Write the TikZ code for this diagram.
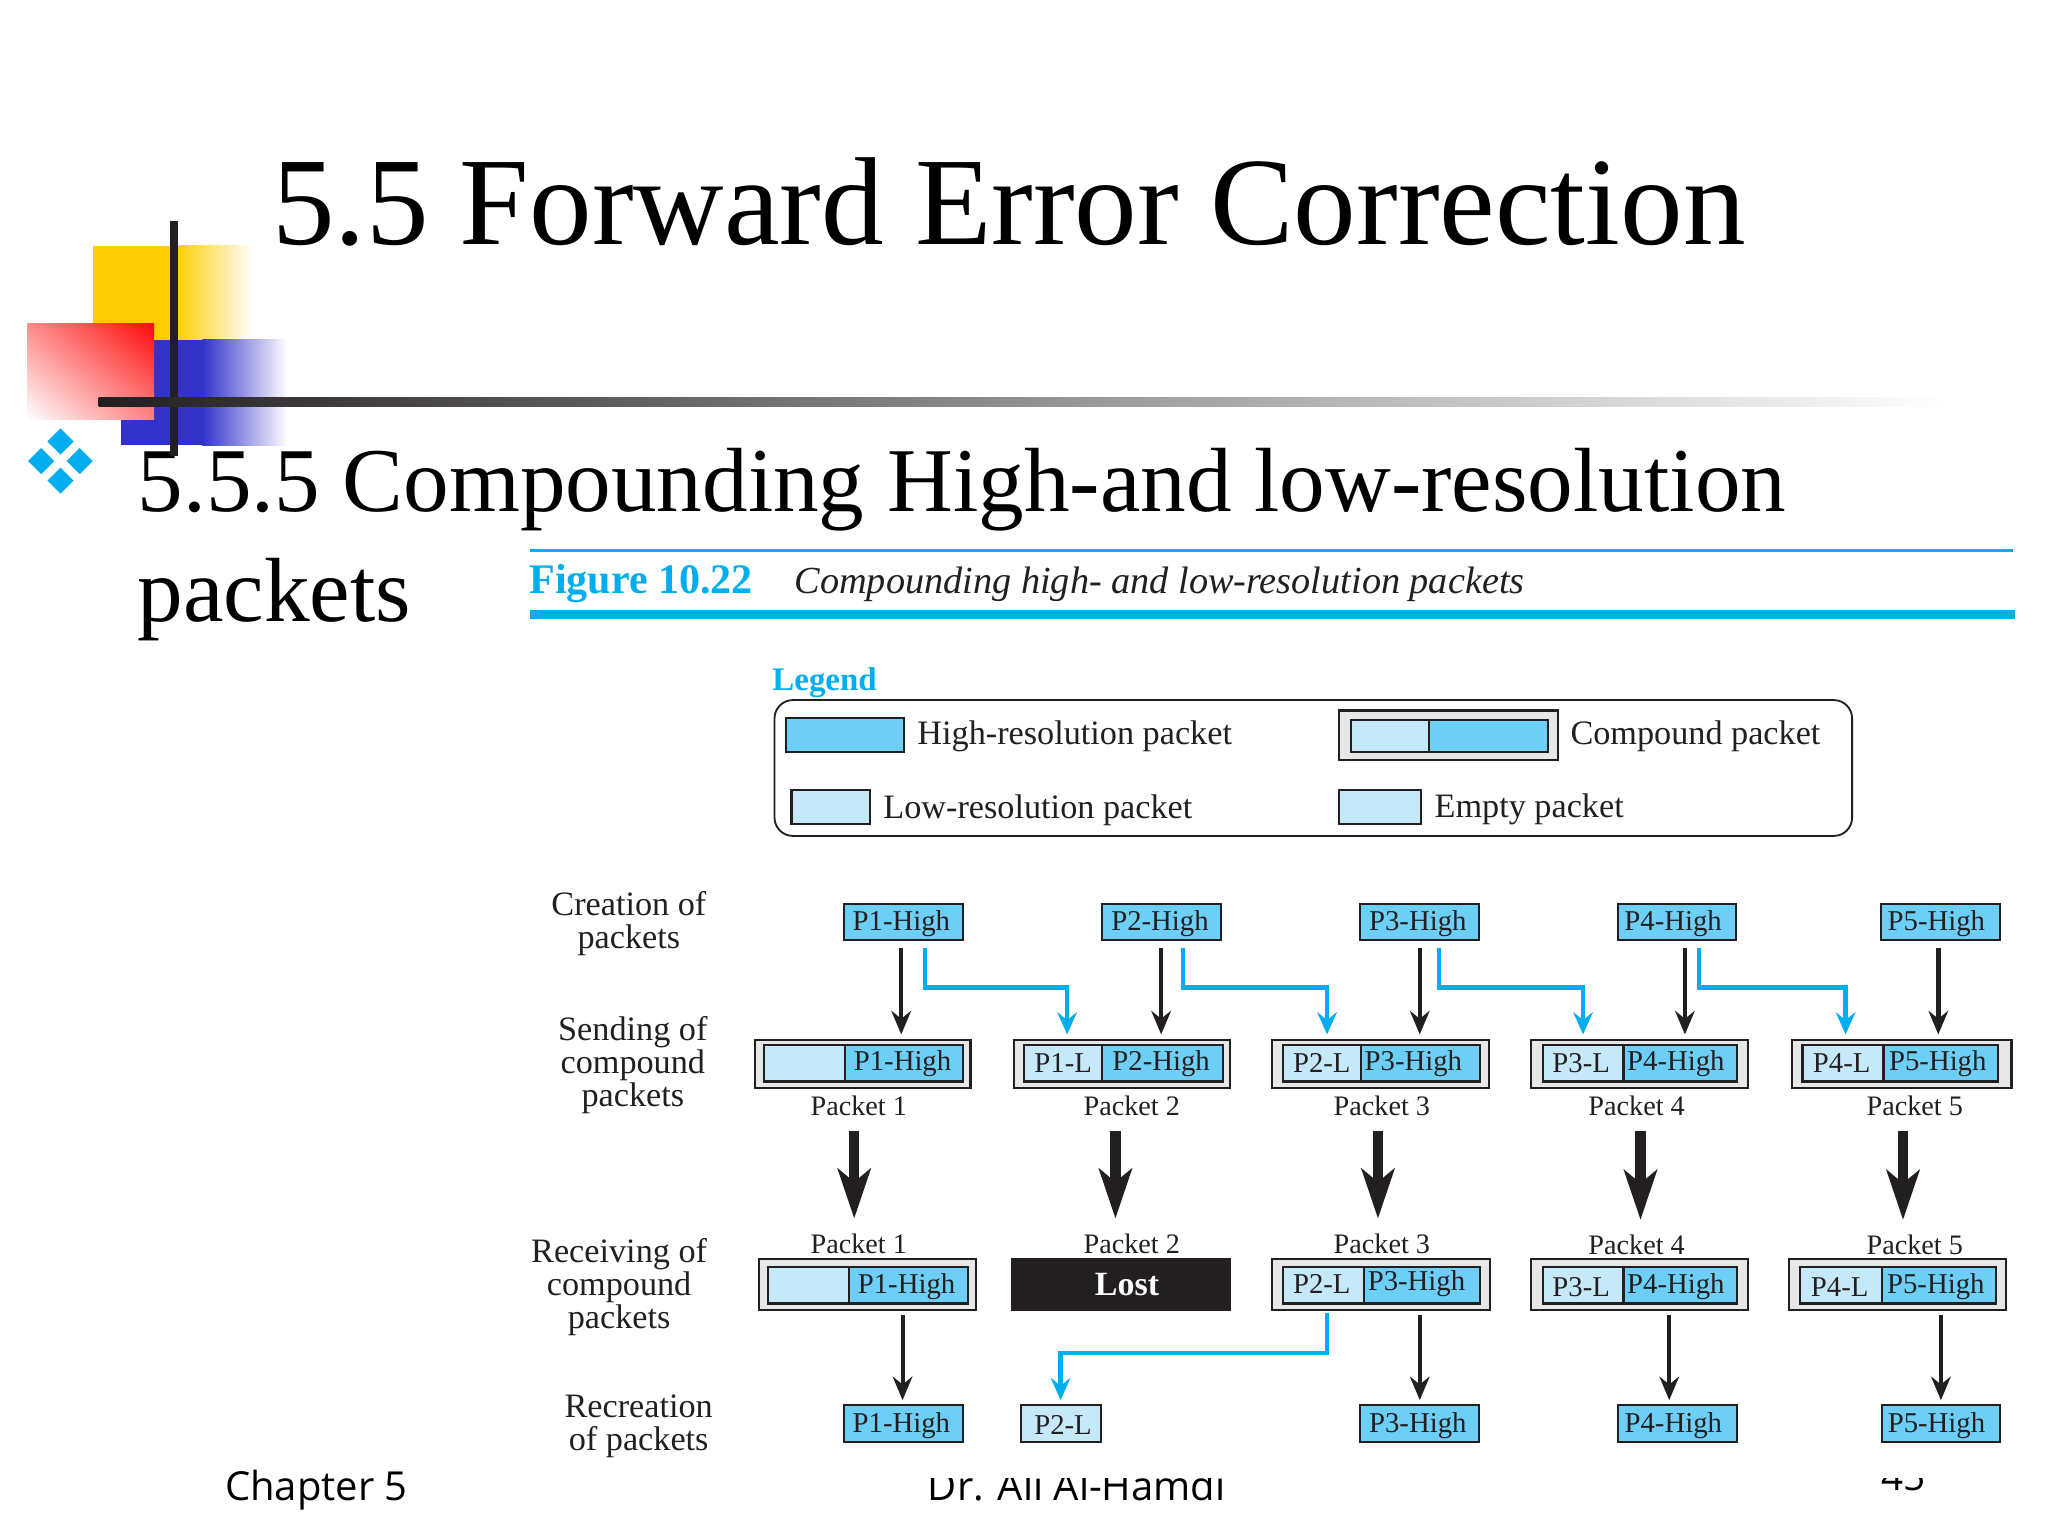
\documentclass[tikz,border=0pt]{standalone}
\usepackage{fontspec}
\setmainfont{Liberation Serif}
\newfontfamily\footfont{Open Sans}
\usetikzlibrary{arrows.meta,calc,shadings}
\definecolor{hi}{HTML}{6DCFF6}
\definecolor{lo}{HTML}{C6E9FA}
\definecolor{cy}{HTML}{00AEEF}
\definecolor{ink}{HTML}{231F20}
\definecolor{gbox}{HTML}{E6E7E8}
\definecolor{deco1}{RGB}{255,204,0}
\definecolor{deco2}{RGB}{51,51,204}
\definecolor{deco3}{RGB}{255,10,10}
\definecolor{deco3a}{RGB}{255,140,140}
\definecolor{deco3b}{RGB}{255,130,130}
\newcommand{\rb}[7]{\node[#1,minimum width={(#5-#3)*0.5pt},minimum height={(#6-#4)*0.5pt}] (#2) at ({(#3+#5)/2},{(#4+#6)/2}) {#7};}
\newcommand{\sh}[2]{\hspace*{#1pt}#2\hspace*{-#1pt}}
\newcommand{\lw}[1]{\raisebox{-0.6pt}[\height][\depth]{#1}}
\newcommand{\up}[1]{\raisebox{0.5pt}[\height][\depth]{#1}}
\tikzset{
  x=0.5pt,y=-0.5pt,
  cell/.style={draw=ink,line width=0.8pt,inner sep=0pt,outer sep=0pt,text=ink,font=\fontsize{11}{13}\selectfont},
  hibox/.style={cell,fill=hi},
  lobox/.style={cell,fill=lo},
  outerbox/.style={cell,fill=gbox},
  lostbox/.style={cell,fill=ink,text=white,font=\fontsize{13}{15}\bfseries\selectfont},
  pklabel/.style={inner sep=0pt,text=ink,font=\fontsize{10.8}{13}\selectfont},
  sidelabel/.style={inner sep=0pt,text=ink,align=center,font=\fontsize{13.1}{12.6}\selectfont},
  legendlabel/.style={inner sep=0pt,text=ink,anchor=west,font=\fontsize{13.1}{15}\selectfont},
  titletext/.style={inner sep=0pt,anchor=base west,text=black},
  footlabel/.style={inner sep=0pt,anchor=base west,text=black,font=\footfont\fontsize{15.3}{18}\selectfont},
  thinarrow/.style={draw=ink,line width=1.7pt,-{Stealth[length=9pt,width=7.5pt,inset=3pt]}},
  bluearrow/.style={draw=cy,line width=1.6pt,-{Stealth[length=8.5pt,width=7.5pt,inset=3pt]}},
  fatarrow/.style={draw=ink,line width=4pt,-{Stealth[length=19pt,width=12.5pt,inset=5pt]}},
  dia/.style={fill=cy,draw=none}
}
\begin{document}
\begin{tikzpicture}
\useasboundingbox (0,0) rectangle (1568,1176);
\fill[white] (0,0) rectangle (1568,1176);
% decoration
\fill[deco1] (71,188) rectangle (133,262);
\shade[left color=deco1,right color=white] (133,188) rectangle (194,262);
\fill[deco2] (93,260) rectangle (155,341);
\shade[left color=deco2,right color=white] (155,260) rectangle (220,341);
\shade[upper right=deco3,lower left=white,upper left=deco3a,lower right=deco3b] (21,248) rectangle (118,321);
\foreach \cx/\cy in {46.3/338,31.5/353,61/353,46.3/368}{
  \fill[dia] (\cx-10,\cy) -- (\cx,\cy-10) -- (\cx+10,\cy) -- (\cx,\cy+10) -- cycle;}
\node[titletext,font=\fontsize{47.9}{58}\selectfont] (title) at (208,187) {5.5 Forward Error Correction};
\node[titletext,font=\fontsize{34.9}{42}\selectfont] (sub1) at (105,392) {5.5.5 Compounding High-and low-resolution};
\node[titletext,font=\fontsize{34.9}{42}\selectfont] (sub2) at (105,476) {packets};
\fill[ink] (130.5,169) rectangle (136,349);
\shade[left color=ink,middle color=black!55,right color=white] (75.5,304.5) rectangle (1490,311);
% footer
\node[footlabel] (foot1) at (172,1149) {Chapter 5};
\node[footlabel] (foot2) at (710,1149) {Dr. Ali Al-Hamdi};
\node[footlabel,font=\footfont\fontsize{14.8}{17}\selectfont] (foot3) at (1440,1141) {45};
% figure sheet
\fill[white] (400,415) rectangle (1568,1131.5);
\fill[cy] (406,420) rectangle (1541,422.5);
\fill[cy] (406,467) rectangle (1543,474);
\node[inner sep=0pt,anchor=west,text=cy,font=\fontsize{16.1}{19}\bfseries\selectfont] (figno) at (405,447) {Figure 10.22};
\node[inner sep=0pt,anchor=west,text=ink,font=\fontsize{14.65}{17}\itshape\selectfont] (figcap) at (608,447) {Compounding high- and low-resolution packets};
% legend
\node[inner sep=0pt,anchor=west,text=cy,font=\fontsize{12.6}{15}\bfseries\selectfont] (leg) at (591,523) {Legend};
\draw[ink,line width=0.7pt,rounded corners=7pt] (593,536) rectangle (1418,640);
\rb{hibox}{lh}{602}{550}{692}{576}{}
\node[legendlabel] (lht) at (702,564) {High-resolution packet};
\rb{outerbox}{lco}{1025}{544}{1193}{582}{}
\rb{lobox}{lcl}{1034}{551}{1094}{576}{}
\rb{hibox}{lch}{1094}{551}{1185}{576}{}
\node[legendlabel] (lct) at (1202,564) {Compound packet};
\rb{lobox}{ll}{606}{605}{666}{631}{}
\node[legendlabel] (llt) at (676,620) {Low-resolution packet};
\rb{lobox}{le}{1025}{605}{1088}{631}{}
\node[legendlabel] (let) at (1098,620) {Empty packet};
% side labels
\node[sidelabel] (sa) at (481.5,707) {Creation of\\packets};
\node[sidelabel] (sb) at (484.5,815.5) {Sending of\\compound\\packets};
\node[sidelabel] (sc) at (474,985.5) {Receiving of\\compound\\packets};
\node[sidelabel] (sd) at (489,1092) {Recreation\\of packets};
% row 1
\rb{hibox}{a1}{646}{692}{737}{720}{\lw{\sh{-0.7}{P1-High}}}
\rb{hibox}{a2}{844}{692}{935}{720}{\lw{\sh{-0.7}{P2-High}}}
\rb{hibox}{a3}{1041}{692}{1132}{720}{\lw{\sh{-0.5}{P3-High}}}
\rb{hibox}{a4}{1239}{692}{1329}{720}{\lw{\sh{-1.5}{P4-High}}}
\rb{hibox}{a5}{1440}{692}{1531}{720}{\lw{\sh{-1.5}{P5-High}}}
% row 2
\rb{outerbox}{b1}{578}{796}{743}{833}{}
\rb{lobox}{b1l}{585}{800}{647}{828}{}
\rb{hibox}{b1h}{647}{800}{737}{828}{\sh{-0.5}{P1-High}}
\rb{outerbox}{b2}{776}{796}{942}{833}{}
\rb{lobox}{b2l}{784}{800}{844}{828}{P1-L}
\rb{hibox}{b2h}{844}{800}{936}{828}{\sh{-0.5}{P2-High}}
\rb{outerbox}{b3}{974}{796}{1140}{833}{}
\rb{lobox}{b3l}{982}{800}{1042}{828}{P2-L}
\rb{hibox}{b3h}{1042}{800}{1133}{828}{\sh{-2.7}{P3-High}}
\rb{outerbox}{b4}{1172}{796}{1338}{833}{}
\rb{lobox}{b4l}{1181}{800}{1243}{828}{\sh{-0.7}{P3-L}}
\rb{hibox}{b4h}{1243}{800}{1330}{828}{\sh{-1.7}{P4-High}}
\rb{outerbox}{b5}{1372}{796}{1540}{833}{}
\rb{lobox}{b5l}{1380}{800}{1442}{828}{\sh{-0.5}{P4-L}}
\rb{hibox}{b5h}{1442}{800}{1530}{828}{\sh{-1.2}{P5-High}}
\node[pklabel] (c1) at (657.5,847) {Packet 1};
\node[pklabel] (c2) at (866.5,847) {Packet 2};
\node[pklabel] (c3) at (1058,847) {Packet 3};
\node[pklabel] (c4) at (1253,847) {Packet 4};
\node[pklabel] (c5) at (1466,847) {Packet 5};
% row 3
\node[pklabel] (d1) at (657.5,952) {Packet 1};
\node[pklabel] (d2) at (866.5,952) {Packet 2};
\node[pklabel] (d3) at (1058,952) {Packet 3};
\node[pklabel] (d4) at (1253,953) {Packet 4};
\node[pklabel] (d5) at (1466,953) {Packet 5};
\rb{outerbox}{e1}{581}{964}{747}{1003}{}
\rb{lobox}{e1l}{588}{970}{650}{998}{}
\rb{hibox}{e1h}{650}{970}{741}{998}{\lw{\sh{-0.7}{P1-High}}}
\rb{lostbox}{e2}{775}{964}{942}{1003}{\sh{2.2}{Lost}}
\rb{outerbox}{e3}{974}{964}{1141}{1003}{}
\rb{lobox}{e3l}{982}{970}{1044}{998}{\up{\sh{-0.5}{P2-L}}}
\rb{hibox}{e3h}{1044}{970}{1133}{998}{\up{\sh{-2}{P3-High}}}
\rb{outerbox}{e4}{1172}{964}{1338}{1003}{}
\rb{lobox}{e4l}{1181}{970}{1243}{998}{\lw{\sh{-0.7}{P3-L}}}
\rb{hibox}{e4h}{1243}{970}{1330}{998}{\lw{\sh{-1.7}{P4-High}}}
\rb{outerbox}{e5}{1370}{964}{1536}{1003}{}
\rb{lobox}{e5l}{1378}{970}{1441}{998}{\lw{\sh{-0.5}{P4-L}}}
\rb{hibox}{e5h}{1441}{970}{1528}{998}{\lw{\sh{-1.2}{P5-High}}}
% row 4
\rb{hibox}{f1}{646}{1076}{737}{1104}{\lw{\sh{-0.7}{P1-High}}}
\rb{lobox}{f2}{782}{1076}{843}{1104}{\lw{\sh{0.7}{P2-L}}}
\rb{hibox}{f3}{1041}{1076}{1132}{1104}{\lw{\sh{-0.5}{P3-High}}}
\rb{hibox}{f4}{1239}{1076}{1330}{1104}{\lw{\sh{-1.7}{P4-High}}}
\rb{hibox}{f5}{1441}{1076}{1531}{1104}{\lw{\sh{-1.7}{P5-High}}}
% connectors row 1 -> 2
\foreach \n/\m/\x in {a1/b1/690,a2/b2/889,a3/b3/1087,a4/b4/1290,a5/b5/1484}{
  \draw[thinarrow,shorten <=3pt,shorten >=2pt] (\x,0 |- \n.south) -- (\x,0 |- \m.north);}
\foreach \n/\m/\x/\xx in {a1/b2/708/817,a2/b3/906/1016,a3/b4/1102/1212,a4/b5/1301/1413}{
  \draw[bluearrow,shorten <=3pt,shorten >=2pt] (\x,0 |- \n.south) -- (\x,756) -- (\xx,756) -- (\xx,0 |- \m.north);}
% fat arrows
\foreach \n/\m/\x in {c1/d1/654,c2/d2/854,c3/d3/1055,c4/d4/1256,c5/d5/1457}{
  \draw[fatarrow,shorten <=5.5pt,shorten >=5.5pt] (\x,0 |- \n.south) -- (\x,0 |- \m.north);}
% connectors row 3 -> 4
\foreach \n/\m/\x in {e1/f1/691,e3/f3/1087,e4/f4/1278,e5/f5/1486}{
  \draw[thinarrow,line width=1.5pt,shorten <=2pt,shorten >=2pt] (\x,0 |- \n.south) -- (\x,0 |- \m.north);}
\draw[bluearrow,shorten <=1pt,shorten >=2pt] (1016,0 |- e3.south) -- (1016,1036) -- (812,1036) -- (812,0 |- f2.north);
\end{tikzpicture}
\end{document}
